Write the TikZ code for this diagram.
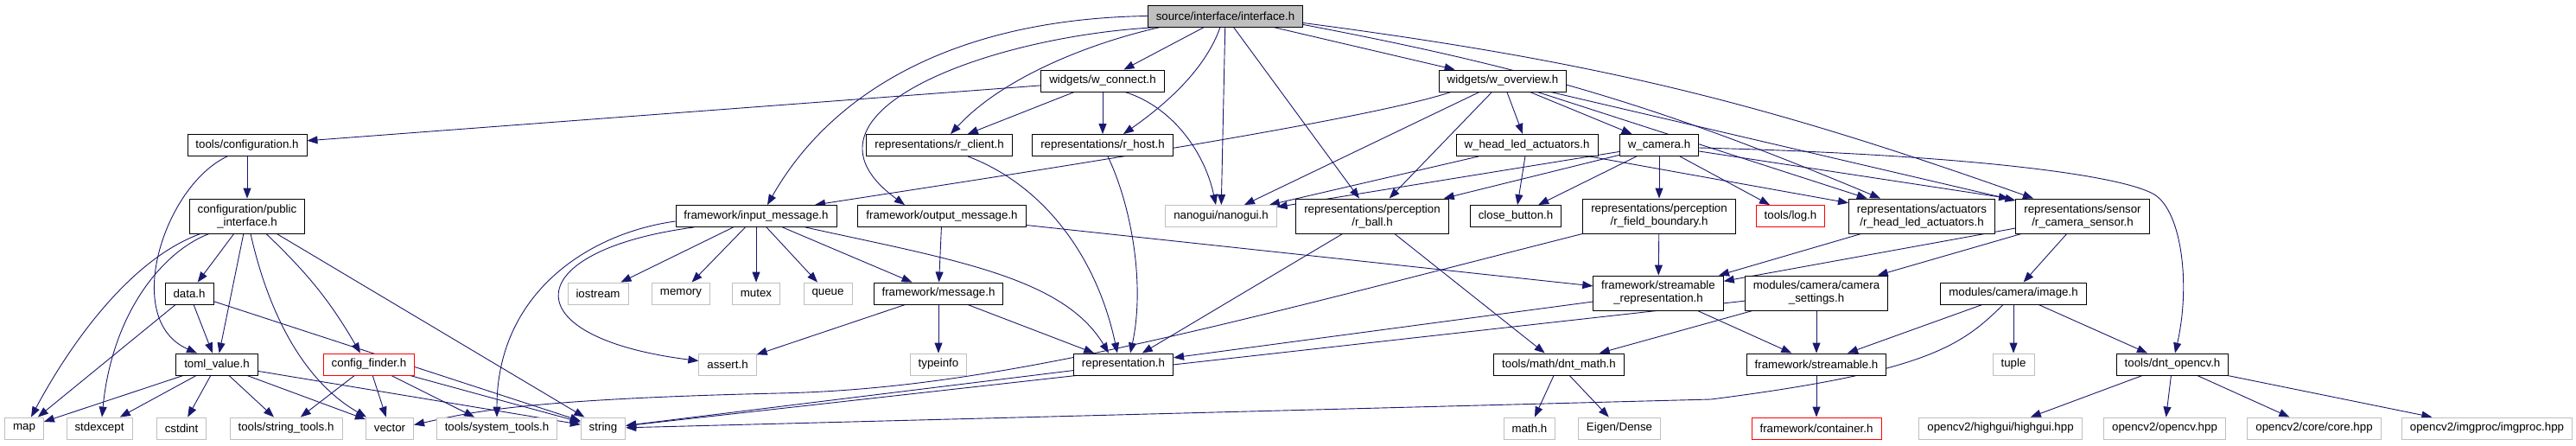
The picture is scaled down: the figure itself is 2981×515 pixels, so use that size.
\documentclass[tikz,border=0pt]{standalone}
\usepackage{fontspec}
\setmainfont{Liberation Sans}
\usetikzlibrary{arrows.meta,backgrounds}
\definecolor{edgeblue}{RGB}{25,25,112}
\definecolor{sysgray}{RGB}{191,191,191}

\begin{document}
\begin{tikzpicture}[x=1pt, y=-1pt,
    incfile/.style={draw=black, line width=0.9pt, fill=white, inner xsep=9.5pt, inner ysep=2pt,
      minimum height=25pt, align=center, font=\fontsize{13.3}{15}\selectfont},
    twoline/.style={minimum height=40pt},
    sysinc/.style={incfile, draw=sysgray},
    redinc/.style={incfile, draw=red},
    rootinc/.style={incfile, fill=sysgray},
    dep/.style={-{Triangle[length=12pt,width=9pt]}, edgeblue, line width=0.9pt}]
  \useasboundingbox (0,0) rectangle (2981,515);

  \node[rootinc] (iface) at (1418,18.5) {source/interface/interface.h};
  \node[incfile] (wconn) at (1276,93.5) {widgets/w\_connect.h};
  \node[incfile] (wover) at (1739,93.5) {widgets/w\_overview.h};
  \node[incfile] (cfg) at (286,168) {tools/configuration.h};
  \node[incfile] (rclient) at (1087,168) {representations/r\_client.h};
  \node[incfile] (rhost) at (1276,168) {representations/r\_host.h};
  \node[incfile] (whead) at (1767,168) {w\_head\_led\_actuators.h};
  \node[incfile] (wcam) at (1920,168) {w\_camera.h};
  \node[incfile, twoline] (pubif) at (286,250) {configuration/public\\\_interface.h};
  \node[incfile] (inmsg) at (875,250) {framework/input\_message.h};
  \node[incfile] (outmsg) at (1090,250) {framework/output\_message.h};
  \node[sysinc] (nanogui) at (1413,250) {nanogui/nanogui.h};
  \node[incfile, twoline] (rball) at (1588,250) {representations/perception\\/r\_ball.h};
  \node[incfile] (closebtn) at (1754,250) {close\_button.h};
  \node[incfile, twoline] (rfield) at (1920,250) {representations/perception\\/r\_field\_boundary.h};
  \node[redinc] (log) at (2072,250) {tools/log.h};
  \node[incfile, twoline] (rhead) at (2224,250) {representations/actuators\\/r\_head\_led\_actuators.h};
  \node[incfile, twoline] (rcam) at (2410,250) {representations/sensor\\/r\_camera\_sensor.h};
  \node[incfile] (datah) at (219,339.5) {data.h};
  \node[sysinc] (iostream) at (692,339.5) {iostream};
  \node[sysinc] (memory) at (788,339.5) {memory};
  \node[sysinc] (mutex) at (875,339.5) {mutex};
  \node[sysinc] (queue) at (958,339.5) {queue};
  \node[incfile] (msg) at (1086,339.5) {framework/message.h};
  \node[incfile, twoline] (strrep) at (1919,339) {framework/streamable\\\_representation.h};
  \node[incfile, twoline] (camset) at (2102,339) {modules/camera/camera\\\_settings.h};
  \node[incfile] (image) at (2330,339.5) {modules/camera/image.h};
  \node[incfile] (toml) at (251,421.5) {toml\_value.h};
  \node[redinc] (cfind) at (427,421.5) {config\_finder.h};
  \node[sysinc] (assert) at (842,421.5) {assert.h};
  \node[sysinc] (typeinfo) at (1086,421.5) {typeinfo};
  \node[incfile] (repr) at (1300,421.5) {representation.h};
  \node[incfile] (dmath) at (1804,421.5) {tools/math/dnt\_math.h};
  \node[incfile] (streamable) at (2102,421.5) {framework/streamable.h};
  \node[sysinc] (tuple) at (2330,421.5) {tuple};
  \node[incfile] (opencv) at (2514,421.5) {tools/dnt\_opencv.h};
  \node[sysinc] (map) at (28,495.5) {map};
  \node[sysinc] (stdexc) at (115,495.5) {stdexcept};
  \node[sysinc] (cstdint) at (210,495.5) {cstdint};
  \node[sysinc] (strtools) at (331,495.5) {tools/string\_tools.h};
  \node[sysinc] (vector) at (451,495.5) {vector};
  \node[sysinc] (systools) at (575,495.5) {tools/system\_tools.h};
  \node[sysinc] (string) at (698,495.5) {string};
  \node[sysinc] (mathh) at (1770,495.5) {math.h};
  \node[sysinc] (eigen) at (1874,495.5) {Eigen/Dense};
  \node[redinc] (container) at (2102,495.5) {framework/container.h};
  \node[sysinc] (highgui) at (2315,495.5) {opencv2/highgui/highgui.hpp};
  \node[sysinc] (opencvhpp) at (2505,495.5) {opencv2/opencv.hpp};
  \node[sysinc] (core) at (2678,495.5) {opencv2/core/core.hpp};
  \node[sysinc] (imgproc) at (2878,495.5) {opencv2/imgproc/imgproc.hpp};

  \begin{pgfonlayer}{background}
  % interface.h
  \draw[dep] (iface.west) .. controls (1100,22) and (960,110) .. ([xshift=13pt]inmsg.north);
  \draw[dep] ([xshift=15pt]iface.south west) .. controls (1150,40) and (900,130) .. ([xshift=-43pt]outmsg.north);
  \draw[dep] ([xshift=15pt]iface.south west) .. controls (1260,50) and (1160,90) .. ([xshift=13pt]rclient.north);
  \draw[dep] (iface) -- (wconn);
  \draw[dep] ([xshift=-6pt]iface.south) .. controls (1395,80) and (1350,120) .. ([xshift=24pt]rhost.north);
  \draw[dep] (iface) -- (nanogui);
  \draw[dep] (iface) -- (rball);
  \draw[dep] (iface) -- (wover);
  \draw[dep] ([yshift=-10pt]iface.east) to[bend left=6] ([xshift=-48pt]rhead.north);
  \draw[dep] ([yshift=-8pt]iface.east) to[bend left=6] ([xshift=-57pt]rcam.north);

  % widgets
  \draw[dep] (wconn) -- (cfg);
  \draw[dep] (wconn) -- (rclient);
  \draw[dep] (wconn) -- (rhost);
  \draw[dep] ([xshift=26pt]wconn.south) .. controls (1360,125) and (1395,180) .. ([xshift=-6pt]nanogui.north);
  \draw[dep] ([xshift=-60pt]wover.south) .. controls (1580,140) and (1150,205) .. ([xshift=68pt]inmsg.north);
  \draw[dep] (wover) -- (nanogui);
  \draw[dep] (wover) -- (rball);
  \draw[dep] (wover) -- (whead);
  \draw[dep] (wover) -- (wcam);
  \draw[dep] (wover) -- (rhead);
  \draw[dep] (wover) -- (rcam);
  \draw[dep] (whead) -- (nanogui);
  \draw[dep] (whead) -- (closebtn);
  \draw[dep] (whead) -- (rhead);
  \draw[dep] (wcam) -- (nanogui);
  \draw[dep] (wcam) -- (rball);
  \draw[dep] (wcam) -- (closebtn);
  \draw[dep] (wcam) -- (rfield);
  \draw[dep] (wcam) -- (log);
  \draw[dep] (wcam) -- ([xshift=-85pt]rcam.north);
  \draw[dep] ([yshift=-3pt]wcam.east) .. controls (2250,178) and (2450,200) .. (2493,225)
    .. controls (2525,245) and (2535,330) .. ([xshift=3pt]opencv.north);

  % configuration
  \draw[dep] (cfg) -- (pubif);
  \draw[dep] ([xshift=-23pt]cfg.south) .. controls (190,215) and (140,370) .. ([xshift=-23pt]toml.north);
  \draw[dep] ([xshift=-54pt]pubif.south) .. controls (150,300) and (80,400) .. ([xshift=8pt]map.north);
  \draw[dep] ([xshift=-44pt]pubif.south) .. controls (190,290) and (130,360) .. ([xshift=3pt]stdexc.north);
  \draw[dep] (pubif) -- (datah);
  \draw[dep] (pubif) -- (toml);
  \draw[dep] ([xshift=4pt]pubif.south) .. controls (310,360) and (350,440) .. ([xshift=-27pt]vector.north);
  \draw[dep] ([xshift=22pt]pubif.south) to[bend left=8] ([xshift=-10pt]cfind.north);
  \draw[dep] (pubif) -- (string);
  \draw[dep] (datah) -- (map);
  \draw[dep] (datah) -- (toml);
  \draw[dep] (datah) -- (string);
  \draw[dep] (toml) -- (map);
  \draw[dep] (toml) -- (stdexc);
  \draw[dep] (toml) -- (cstdint);
  \draw[dep] (toml) -- (strtools);
  \draw[dep] (toml) -- (vector);
  \draw[dep] (toml) -- (string);
  \draw[dep] (cfind) -- (strtools);
  \draw[dep] (cfind) -- (vector);
  \draw[dep] (cfind) -- (systools);
  \draw[dep] (cfind) -- (string);

  % messages
  \draw[dep] ([yshift=-6pt]inmsg.west) .. controls (680,270) and (575,340) .. (systools.north);
  \draw[dep] ([xshift=-72pt]inmsg.south) .. controls (600,290) and (590,390) .. ([yshift=4pt]assert.west);
  \draw[dep] (inmsg) -- (iostream);
  \draw[dep] (inmsg) -- (memory);
  \draw[dep] (inmsg) -- (mutex);
  \draw[dep] (inmsg) -- (queue);
  \draw[dep] (inmsg) -- (msg);
  \draw[dep] ([xshift=57pt]inmsg.south) .. controls (1100,300) and (1230,320) .. ([xshift=-17pt]repr.north);
  \draw[dep] (outmsg) -- (msg);
  \draw[dep] (outmsg) -- (strrep);
  \draw[dep] (msg) -- (assert);
  \draw[dep] (msg) -- (typeinfo);
  \draw[dep] (msg) -- (repr);

  % representations
  \draw[dep] ([xshift=33pt]rclient.south) .. controls (1210,215) and (1270,300) .. ([xshift=-7pt]repr.north);
  \draw[dep] ([xshift=6pt]rhost.south) .. controls (1310,240) and (1325,330) .. ([xshift=8pt]repr.north);
  \draw[dep] (rball) -- (repr);
  \draw[dep] (rball) -- (dmath);
  \draw[dep] (rfield) -- (strrep);
  \draw[dep] (rfield.south west) .. controls (1400,380) and (1150,450) .. (900,455)
    .. controls (600,462) and (540,478) .. ([yshift=4pt]vector.east);
  \draw[dep] (rhead) -- (strrep);
  \draw[dep] (rcam) -- (strrep);
  \draw[dep] (rcam) -- (camset);
  \draw[dep] (rcam) -- (image);
  \draw[dep] (strrep) -- (repr);
  \draw[dep] (strrep) -- (streamable);
  \draw[dep] (repr) -- (string);

  % modules and tools
  \draw[dep] (camset) -- (string);
  \draw[dep] (camset) -- (dmath);
  \draw[dep] (camset) -- (streamable);
  \draw[dep] (image) -- (streamable);
  \draw[dep] ([xshift=-12pt]image.south) .. controls (2270,400) and (2230,430) .. (1980,462) -- (string);
  \draw[dep] (image) -- (tuple);
  \draw[dep] (image) -- (opencv);
  \draw[dep] (streamable) -- (container);
  \draw[dep] (dmath) -- (mathh);
  \draw[dep] (dmath) -- (eigen);
  \draw[dep] (opencv) -- (highgui);
  \draw[dep] (opencv) -- (opencvhpp);
  \draw[dep] (opencv) -- (core);
  \draw[dep] (opencv) -- (imgproc);
  \end{pgfonlayer}
\end{tikzpicture}
\end{document}
